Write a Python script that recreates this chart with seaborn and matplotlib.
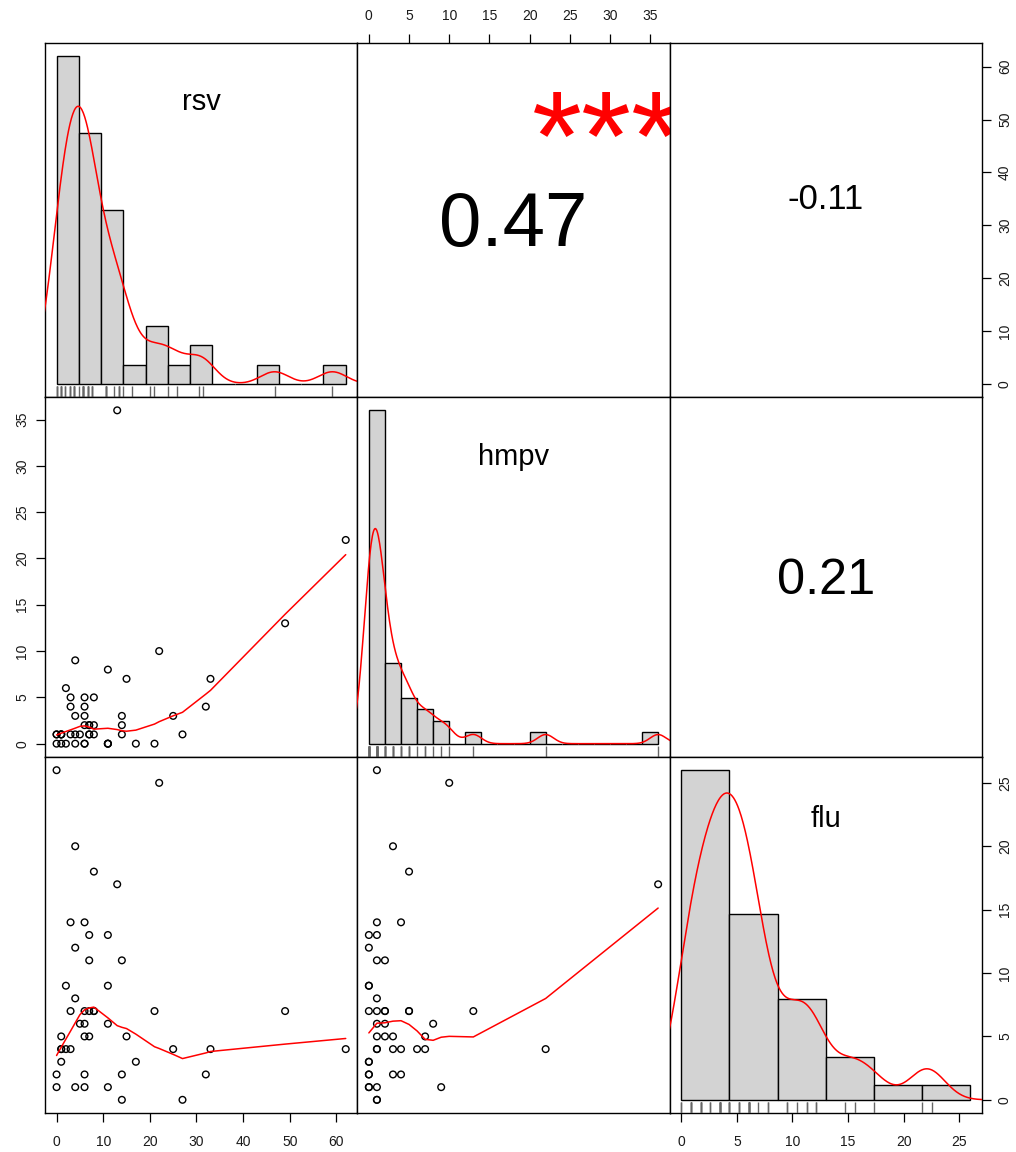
import numpy as np
import pandas as pd
import matplotlib
matplotlib.use("Agg")
import matplotlib.pyplot as plt
import matplotlib.transforms as mtransforms
from matplotlib.textpath import TextPath
from matplotlib.font_manager import FontProperties
import seaborn as sns

# ---------------- data ----------------
names = ["rsv", "hmpv", "flu"]
rsv = [0, 22, 4, 8, 13, 3, 6, 7, 11, 4, 7, 14, 2, 11, 4, 3, 6, 7, 8, 8,
       21, 49, 11, 5, 6, 15, 1, 6, 7, 62, 33, 25, 2, 3, 1, 1, 1, 17, 32, 14,
       0, 6, 4, 11, 0, 6, 14, 27]
hmpv = [1, 10, 3, 5, 36, 1, 4, 1, 0, 0, 1, 2, 0, 0, 1, 5, 5, 2, 1, 2,
        0, 13, 8, 1, 2, 7, 1, 3, 2, 22, 7, 3, 6, 4, 1, 1, 0, 0, 4, 3,
        0, 0, 9, 0, 1, 0, 1, 1]
flu = [26, 25, 20, 18, 17, 14, 14, 13, 13, 12, 11, 11, 9, 9, 8, 7, 7, 7, 7, 7,
       7, 7, 6, 6, 6, 5, 5, 5, 5, 4, 4, 4, 4, 4, 4, 4, 3, 3, 2, 2,
       2, 2, 1, 1, 1, 1, 0, 0]

rsv_breaks = [0, 5, 10, 15, 20, 25, 30, 35, 40, 45, 50, 55, 60, 65]
hmpv_breaks = [0, 2, 4, 6, 8, 10, 12, 14, 16, 18, 20, 22, 24, 26, 28, 30, 32, 34, 36]
flu_breaks = [0, 5, 10, 15, 20, 25, 30]

rsv_ticks = [0, 10, 20, 30, 40, 50, 60]
hmpv_ticks = [0, 5, 10, 15, 20, 25, 30, 35]
flu_ticks = [0, 5, 10, 15, 20, 25]

# upper panels: (row, col) -> correlation label, significance stars
cor_labels = {(0, 1): "0.47", (0, 2): "-0.11", (1, 2): "0.21"}
cor_stars = {(0, 1): "***", (0, 2): "", (1, 2): ""}
# vertical placement (axes fraction) of the correlation labels
cor_ypos = {(0, 1): 0.5, (0, 2): 0.565, (1, 2): 0.5}

df = pd.DataFrame({"rsv": rsv, "hmpv": hmpv, "flu": flu})
breaks = {"rsv": rsv_breaks, "hmpv": hmpv_breaks, "flu": flu_breaks}
ticks = {"rsv": rsv_ticks, "hmpv": hmpv_ticks, "flu": flu_ticks}

# ---------------- helpers ----------------
def r_lowess(x, y, f=2 / 3, nsteps=3):
    """Port of R's clowess (stats::lowess)."""
    x = np.asarray(x, float)
    y = np.asarray(y, float)
    o = np.argsort(x, kind="stable")
    x = x[o]
    y = y[o]
    n = len(x)
    delta = 0.01 * (x[-1] - x[0])
    ns = max(2, min(n, int(f * n + 1e-7)))
    X = np.concatenate([[0.0], x])
    Y = np.concatenate([[0.0], y])
    ys = np.zeros(n + 1)
    rw = np.ones(n + 1)
    rng = X[n] - X[1]

    def lowest(xs, nleft, nright, userw):
        h = max(xs - X[nleft], X[nright] - xs)
        h9 = 0.999 * h
        h1 = 0.001 * h
        w = np.zeros(n + 1)
        a = 0.0
        j = nleft
        while j <= n:
            r = abs(X[j] - xs)
            if r <= h9:
                if r <= h1:
                    w[j] = 1.0
                else:
                    w[j] = (1 - (r / h) ** 3) ** 3
                if userw:
                    w[j] *= rw[j]
                a += w[j]
            elif X[j] > xs:
                break
            j += 1
        nrt = j - 1
        if a <= 0:
            return None
        sl = slice(nleft, nrt + 1)
        w[sl] /= a
        if h > 0:
            aa = np.sum(w[sl] * X[sl])
            b = xs - aa
            c = np.sum(w[sl] * (X[sl] - aa) ** 2)
            if np.sqrt(c) > 0.001 * rng:
                b /= c
                w[sl] *= (b * (X[sl] - aa) + 1.0)
        return np.sum(w[sl] * Y[sl])

    it = 1
    while it <= nsteps + 1:
        nleft, nright, last, i = 1, ns, 0, 1
        while True:
            if nright < n:
                d1 = X[i] - X[nleft]
                d2 = X[nright + 1] - X[i]
                if d1 > d2:
                    nleft += 1
                    nright += 1
                    continue
            v = lowest(X[i], nleft, nright, it > 1)
            ys[i] = Y[i] if v is None else v
            if last < i - 1:
                denom = X[i] - X[last]
                for jj in range(last + 1, i):
                    alpha = (X[jj] - X[last]) / denom
                    ys[jj] = alpha * ys[i] + (1 - alpha) * ys[last]
            last = i
            cut = X[last] + delta
            i = last + 1
            while i <= n:
                if X[i] > cut:
                    break
                if X[i] == X[last]:
                    ys[i] = ys[last]
                    last = i
                i += 1
            i = max(last + 1, i - 1)
            if last >= n:
                break
        res = Y[1:] - ys[1:]
        sc = np.mean(np.abs(res))
        if it > nsteps:
            break
        ar = np.abs(res)
        srt = np.sort(ar)
        m1 = n // 2
        if n % 2 == 0:
            m2 = n - m1 - 1
            cmad = 3.0 * (srt[m1] + srt[m2])
        else:
            cmad = 6.0 * srt[m1]
        if cmad < 1e-7 * sc:
            break
        c9, c1 = 0.999 * cmad, 0.001 * cmad
        rw[1:] = np.where(ar <= c1, 1.0, np.where(ar <= c9, (1 - (ar / cmad) ** 2) ** 2, 0.0))
        it += 1
    return x, ys[1:]


def nrd0_factor(v):
    v = np.asarray(v, float)
    n = len(v)
    sd = v.std(ddof=1)
    q75, q25 = np.percentile(v, [75, 25])
    lo = min(sd, (q75 - q25) / 1.34)
    if lo <= 0:
        lo = sd
    return 0.9 * lo * n ** -0.2 / sd


FONT = ["Liberation Sans", "DejaVu Sans"]
fp = FontProperties(family=FONT)


def ink_text(ax, x, y, s, fs, **kw):
    """Text horizontally centred, vertically centred on its ink (like R)."""
    tp = TextPath((0, 0), s, size=fs, prop=fp)
    ext = tp.get_extents()
    off = -(ext.y0 + ext.y1) / 2.0
    tr = mtransforms.offset_copy(ax.transAxes, fig=ax.figure, x=0, y=off, units="points")
    return ax.text(x, y, s, transform=tr, fontsize=fs, ha="center", va="baseline",
                   family=FONT, **kw)


EMW = {"0": .556, "1": .556, "2": .556, "3": .556, "4": .556, "5": .556, "6": .556,
       "7": .556, "8": .556, "9": .556, ".": .278, "-": .333, "*": .389}


def str_em(s):
    return sum(EMW.get(c, 0.556) for c in s)


# ---------------- figure ----------------
sns.set_theme(style="white")
plt.rcParams["font.family"] = FONT

W, H = 1016, 1152
DPI = 100
fig = plt.figure(figsize=(W / DPI, H / DPI), dpi=DPI)
fig.patch.set_facecolor("white")

xe = [45.0, 357.3, 669.7, 982.0]
ye = [43.0, 397.0, 757.0, 1113.0]


def rect(i, j):
    l = xe[j] / W
    r = xe[j + 1] / W
    t = 1 - ye[i] / H
    b = 1 - ye[i + 1] / H
    return [l, b, r - l, t - b]


def lim(v):
    a = np.asarray(df[v], float)
    r = a.max() - a.min()
    return (a.min() - 0.04 * r, a.max() + 0.04 * r)


TICK_KW = dict(direction="out", length=6.5, width=0.9, labelsize=10,
               colors="black", labelcolor="#1a1a1a")

for i in range(3):
    for j in range(3):
        vy = names[i]
        vx = names[j]
        ax = fig.add_axes(rect(i, j))
        ax.set_facecolor("white")
        ax.set_xlim(lim(vx))
        ax.set_ylim(lim(vy))
        ax.set_xticks([])
        ax.set_yticks([])
        for sp in ax.spines.values():
            sp.set_visible(True)
            sp.set_color("black")
            sp.set_linewidth(1.0)

        # outer axes as in R pairs()
        if i == 0 and j % 2 == 1:
            ax.set_xticks(ticks[vx])
            ax.set_xticklabels([str(t) for t in ticks[vx]])
            ax.xaxis.set_ticks_position("top")
            ax.tick_params(axis="x", pad=8, **TICK_KW)
        if i == 2 and j % 2 == 0:
            ax.set_xticks(ticks[vx])
            ax.set_xticklabels([str(t) for t in ticks[vx]])
            ax.xaxis.set_ticks_position("bottom")
            ax.tick_params(axis="x", pad=9, **TICK_KW)
        if j == 0 and i % 2 == 1:
            ax.set_yticks(ticks[vy])
            ax.set_yticklabels([str(t) for t in ticks[vy]], rotation=90, va="center")
            ax.yaxis.set_ticks_position("left")
            ax.tick_params(axis="y", pad=5, **TICK_KW)
        if j == 2 and i % 2 == 0:
            ax.set_yticks(ticks[vy])
            ax.set_yticklabels([str(t) for t in ticks[vy]], rotation=90, va="center")
            ax.yaxis.set_ticks_position("right")
            ax.tick_params(axis="y", pad=5, **TICK_KW)

        panel_w = xe[j + 1] - xe[j]

        if i > j:
            # lower panel: scatter + lowess
            sns.scatterplot(x=df[vx], y=df[vy], ax=ax, marker="o", s=23,
                            facecolor="none", edgecolor="black", linewidth=1.0,
                            legend=False)
            lx, ly = r_lowess(df[vx].values, df[vy].values)
            sns.lineplot(x=lx, y=ly, ax=ax, sort=False, estimator=None,
                         color="red", lw=1.1, legend=False)
            ax.set_xlim(lim(vx))
            ax.set_ylim(lim(vy))
            ax.set_xlabel("")
            ax.set_ylabel("")
        elif i < j:
            # upper panel: correlation text
            lab = cor_labels[(i, j)]
            r = abs(float(lab))
            base_em_px = 0.8 * panel_w / str_em(lab)
            fs = base_em_px * (r + 0.3) / 1.3 * 72 / DPI
            ink_text(ax, 0.5, cor_ypos[(i, j)], lab, fs, color="black")
            st = cor_stars[(i, j)]
            if st:
                fs_st = base_em_px * 72 / DPI
                t = ink_text(ax, 0.8, 0.8, st, fs_st, color="red", clip_on=True)
                t.set_clip_path(ax.patch)
            ax.set_xlabel("")
            ax.set_ylabel("")
        else:
            ax.set_xlabel("")
            ax.set_ylabel("")
            # diagonal: histogram (density), KDE, rug
            hax = fig.add_axes(rect(i, j))
            hax.set_axis_off()
            vals = np.asarray(df[vx], float)
            br = np.asarray(breaks[vx], float)
            edges = br + 1e-6
            edges[0] = br[0] - 1e-6
            cnt, _ = np.histogram(vals, bins=edges)
            dens = cnt / (len(vals) * np.diff(br))
            maxd = dens.max()
            sns.histplot(x=vals, bins=edges, stat="density", ax=hax,
                         color="#D3D3D3", edgecolor="black", linewidth=1.0, alpha=1.0)
            sns.kdeplot(x=vals, ax=hax, bw_method=nrd0_factor(vals), cut=3,
                        gridsize=512, color="red", lw=1.1)
            sns.rugplot(x=vals, ax=hax, height=0.03, color="#666666", lw=0.7)
            rr = br[-1] - br[0]
            hax.set_xlim(br[0] - 0.04 * rr, br[-1] + 0.04 * rr)
            hax.set_ylim(-0.04 * maxd, 1.04 * maxd)
            hax.set_xlabel("")
            hax.set_ylabel("")
            ink_text(hax, 0.5, 0.5 + 1 / 3, vx, 21, color="black")

fig.savefig("out.png", dpi=DPI, facecolor="white")
